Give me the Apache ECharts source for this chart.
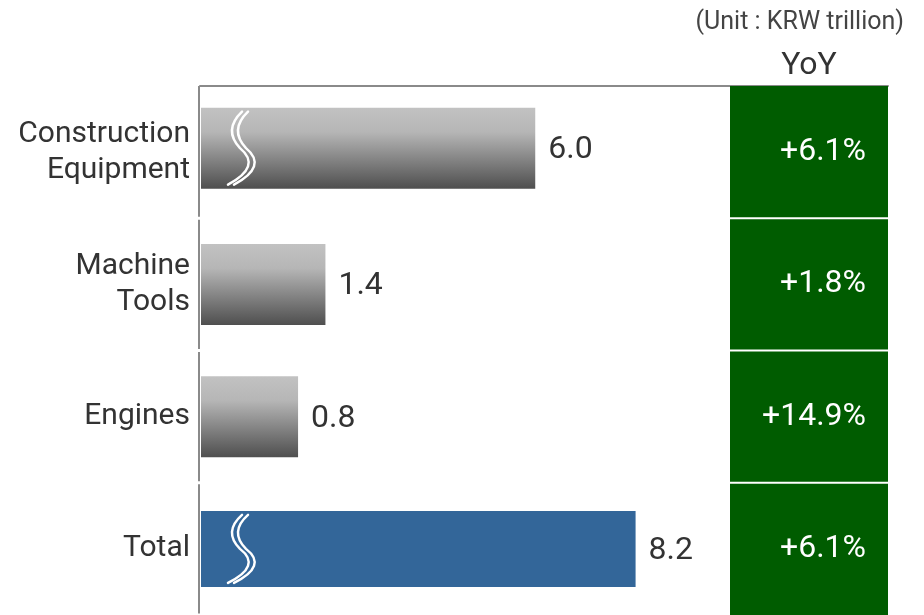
<!DOCTYPE html>
<html>
<head>
<meta charset="utf-8">
<script src="https://cdn.jsdelivr.net/npm/echarts@6/dist/echarts.min.js"></script>
<style>
  html, body { margin: 0; padding: 0; background: #fff; }
  #main { width: 924px; height: 615px; }
</style>
</head>
<body>
<div id="main"></div>
<script>
// data
const categories = ['Construction\nEquipment', 'Machine\nTools', 'Engines', 'Total']
const sales = [6.0, 1.4, 0.8, 8.2]
const yoy = ['+6.1%', '+1.8%', '+14.9%', '+6.1%']
const brokenBars = ['Construction\nEquipment', 'Total']
const yoyColumn = ['YoY']

const xMin = -1.35
const xMax = 10.27
const font = 'Roboto'
const lineGray = '#8a8a8a'

const chart = echarts.init(document.getElementById('main'))

const grayFill = new echarts.graphic.LinearGradient(0, 0, 0, 1, [
  { offset: 0, color: '#c2c2c2' },
  { offset: 0.3, color: '#b6b6b6' },
  { offset: 1, color: '#4f4f4f' }
])

// S shaped break mark (two white strokes)
const breakPath = (bx, by, s) => {
  const p = (dx, dy) => (bx + dx) + ' ' + (by + dy * s)
  return 'M ' + p(4, -36) + ' Q ' + p(-15, -18) + ' ' + p(2, 0) + ' Q ' + p(24, 18) + ' ' + p(-10, 36)
}

const renderBar = (params, api) => {
  const i = params.dataIndex
  const val = api.value(0)
  const cat = api.value(1)
  const start = api.coord([xMin, cat])
  const end = api.coord([val, cat])
  const band = api.size([0, 1])[1]
  const cs = params.coordSys
  const isTotal = i === categories.length - 1
  const h = isTotal ? 76 : 81
  const cy = start[1] - (i === 0 ? 4 : 0)
  const children = []
  // left axis piece for this row (small gap between rows)
  children.push({
    type: 'line',
    shape: { x1: cs.x - 1, y1: start[1] - band / 2 + (i === 0 ? 0 : 1.5), x2: cs.x - 1, y2: start[1] + band / 2 - 1.5 },
    style: { stroke: lineGray, lineWidth: 2 }
  })
  children.push({
    type: 'rect',
    shape: { x: start[0] + 1, y: cy - h / 2, width: end[0] - start[0] - 1, height: h },
    style: { fill: isTotal ? '#336699' : grayFill }
  })
  if (brokenBars.indexOf(categories[i]) >= 0) {
    const s = (h / 2 - 4) / 36
    const bx = start[0] + 38
    ;[0, 6].forEach((dx) => {
      children.push({
        type: 'path',
        shape: { pathData: breakPath(bx + dx, cy, s) },
        style: { stroke: '#fff', lineWidth: 2.5, fill: null, lineCap: 'round' }
      })
    })
  }
  children.push({
    type: 'text',
    style: {
      text: val.toFixed(1),
      x: end[0] + 13,
      y: cy + 2,
      verticalAlign: 'middle',
      align: 'left',
      fontFamily: font,
      fontSize: 32,
      fill: '#333'
    }
  })
  return { type: 'group', children }
}

const renderCell = (params, api) => {
  const i = params.dataIndex
  const c = api.coord([api.value(0), api.value(1)])
  const band = api.size([0, 1])[1]
  const cs = params.coordSys
  const top = c[1] - band / 2
  const children = [
    { type: 'rect', shape: { x: cs.x, y: top, width: cs.width, height: band }, style: { fill: '#005c00' } }
  ]
  if (i > 0) {
    children.push({
      type: 'line',
      shape: { x1: cs.x, y1: top, x2: cs.x + cs.width, y2: top },
      style: { stroke: '#fff', lineWidth: 2 }
    })
  }
  children.push({
    type: 'text',
    style: {
      text: yoy[i],
      x: cs.x + cs.width - 22,
      y: c[1],
      align: 'right',
      verticalAlign: 'middle',
      fontFamily: font,
      fontSize: 32,
      fill: '#fff'
    }
  })
  return { type: 'group', children }
}

chart.setOption({
  animation: false,
  title: {
    text: '(Unit : KRW trillion)',
    right: 15,
    top: 5,
    textStyle: { fontFamily: font, fontSize: 25, fontWeight: 'normal', color: '#444' }
  },
  grid: [
    { left: 200, right: 194, top: 86, bottom: 0 },
    { left: 730, right: 36, top: 86, bottom: 0 }
  ],
  xAxis: [
    {
      type: 'value',
      gridIndex: 0,
      position: 'top',
      min: xMin,
      max: xMax,
      axisLine: { show: true, lineStyle: { color: lineGray, width: 2 } },
      axisTick: { show: false },
      axisLabel: { show: false },
      splitLine: { show: false }
    },
    {
      type: 'category',
      gridIndex: 1,
      position: 'top',
      data: yoyColumn,
      axisLine: { show: true, lineStyle: { color: lineGray, width: 2 } },
      axisTick: { show: false },
      axisLabel: { fontFamily: font, fontSize: 32, color: '#333', margin: 4 }
    }
  ],
  yAxis: [
    {
      type: 'category',
      gridIndex: 0,
      inverse: true,
      data: categories,
      axisLine: { show: false },
      axisTick: { show: false },
      axisLabel: { fontFamily: font, fontSize: 30, color: '#333', margin: 10, lineHeight: 36 }
    },
    {
      type: 'category',
      gridIndex: 1,
      inverse: true,
      data: categories,
      show: false
    }
  ],
  series: [
    {
      type: 'custom',
      xAxisIndex: 0,
      yAxisIndex: 0,
      renderItem: renderBar,
      encode: { x: 0, y: 1 },
      data: sales.map((v, i) => [v, categories[i]])
    },
    {
      type: 'custom',
      xAxisIndex: 1,
      yAxisIndex: 1,
      renderItem: renderCell,
      encode: { x: 0, y: 1 },
      data: yoy.map((v, i) => [yoyColumn[0], categories[i]])
    }
  ]
})
</script>
</body>
</html>
